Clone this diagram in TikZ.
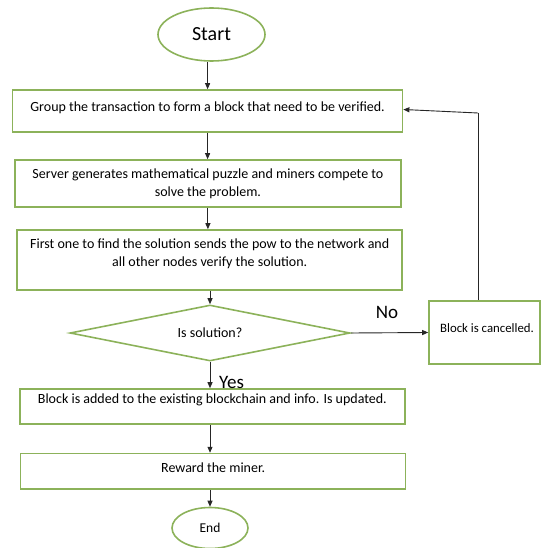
\documentclass[tikz,border=0pt]{standalone}
\usepackage{fontspec}
\setmainfont{Carlito}
\usetikzlibrary{shapes.geometric,arrows.meta}
\definecolor{bord}{RGB}{140,178,90}
\tikzset{
  box/.style={draw=bord, line width=1.6pt, rectangle, inner sep=0pt, fill=white},
  oval/.style={draw=bord, line width=1.6pt, ellipse, inner sep=0pt, fill=white},
  decision/.style={draw=bord, line width=1.6pt, diamond, aspect=5, inner sep=0pt, minimum width=280pt, minimum height=56pt},
  txt/.style={inner sep=0pt, align=center, font=\fontsize{14}{18}\selectfont},
  lbl/.style={inner sep=0pt, font=\fontsize{19}{22}\selectfont},
  arr/.style={draw=black!85, line width=0.9pt, -{Triangle[length=6pt,width=5pt]}},
  lin/.style={draw=black!85, line width=0.9pt}
}
\begin{document}
\begin{tikzpicture}[x=1pt,y=-1pt]
\useasboundingbox (0,0) rectangle (542,548);
% nodes
\node[oval, minimum width=107pt, minimum height=53pt, font=\fontsize{20}{24}\selectfont] (start) at (211.5,34.5) {Start};
\node[box, minimum width=390pt, minimum height=42pt] (b1) at (207.6,111) {};
\node[txt] (t1) at ([yshift=3.4pt]b1.center) {Group the transaction to form a block that need to be verified.};
\node[box, minimum width=386pt, minimum height=47pt] (b2) at (207.9,183.5) {};
\node[txt] (t2) at (b2.center) {Server generates mathematical puzzle and miners compete to\\solve the problem.};
\node[box, minimum width=385pt, minimum height=60pt] (b3) at (209.7,260) {};
\node[txt] (t3) at ([yshift=6pt]b3.center) {First one to find the solution sends the pow to the network and\\all other nodes verify the solution.};
\node[decision] (dia) at (210,333) {};
\node[txt] (td) at (dia.center) {Is solution?};
\node[box, minimum width=111pt, minimum height=63pt] (cancel) at (484.5,332.5) {};
\node[txt, font=\fontsize{12.8}{16}\selectfont] (tc) at ([xshift=2.5pt,yshift=4.5pt]cancel.center) {Block is cancelled.};
\node[box, minimum width=385pt, minimum height=35pt] (b4) at (212.4,406.5) {};
\node[txt] (t4) at ([yshift=6.5pt]b4.center) {Block is added to the existing blockchain and info. Is updated.};
\node[box, minimum width=385pt, minimum height=35.5pt] (b5) at (213.1,471.3) {};
\node[txt] (t5) at ([yshift=3.6pt]b5.center) {Reward the miner.};
\node[oval, minimum width=76pt, minimum height=41pt, font=\fontsize{13.5}{16}\selectfont] (end) at (210,528) {End};
\node[lbl] (no) at (387,312.5) {No};
\node[lbl] (yes) at (231.6,382.5) {Yes};
\coordinate (corner) at (478,113);
% connectors
\draw[arr] (start.south -| b1.north) -- (b1.north);
\draw[arr] (b1.south) -- (b1.south |- b2.north);
\draw[arr] (b2.south) -- (b2.south |- b3.north);
\draw[arr] (b3.south -| dia.north) -- (dia.north);
\draw[arr] (dia.south) -- (dia.south |- b4.north);
\draw[arr] (b4.south -| dia.south) -- (dia.south |- b5.north);
\draw[arr] (b5.south -| end.north) -- (end.north);
\draw[arr] (dia.east) -- (cancel.west);
\draw[lin] (cancel.north -| corner) -- (corner);
\draw[arr] (corner) -- ([yshift=1.5pt]b1.east);
\end{tikzpicture}
\end{document}
